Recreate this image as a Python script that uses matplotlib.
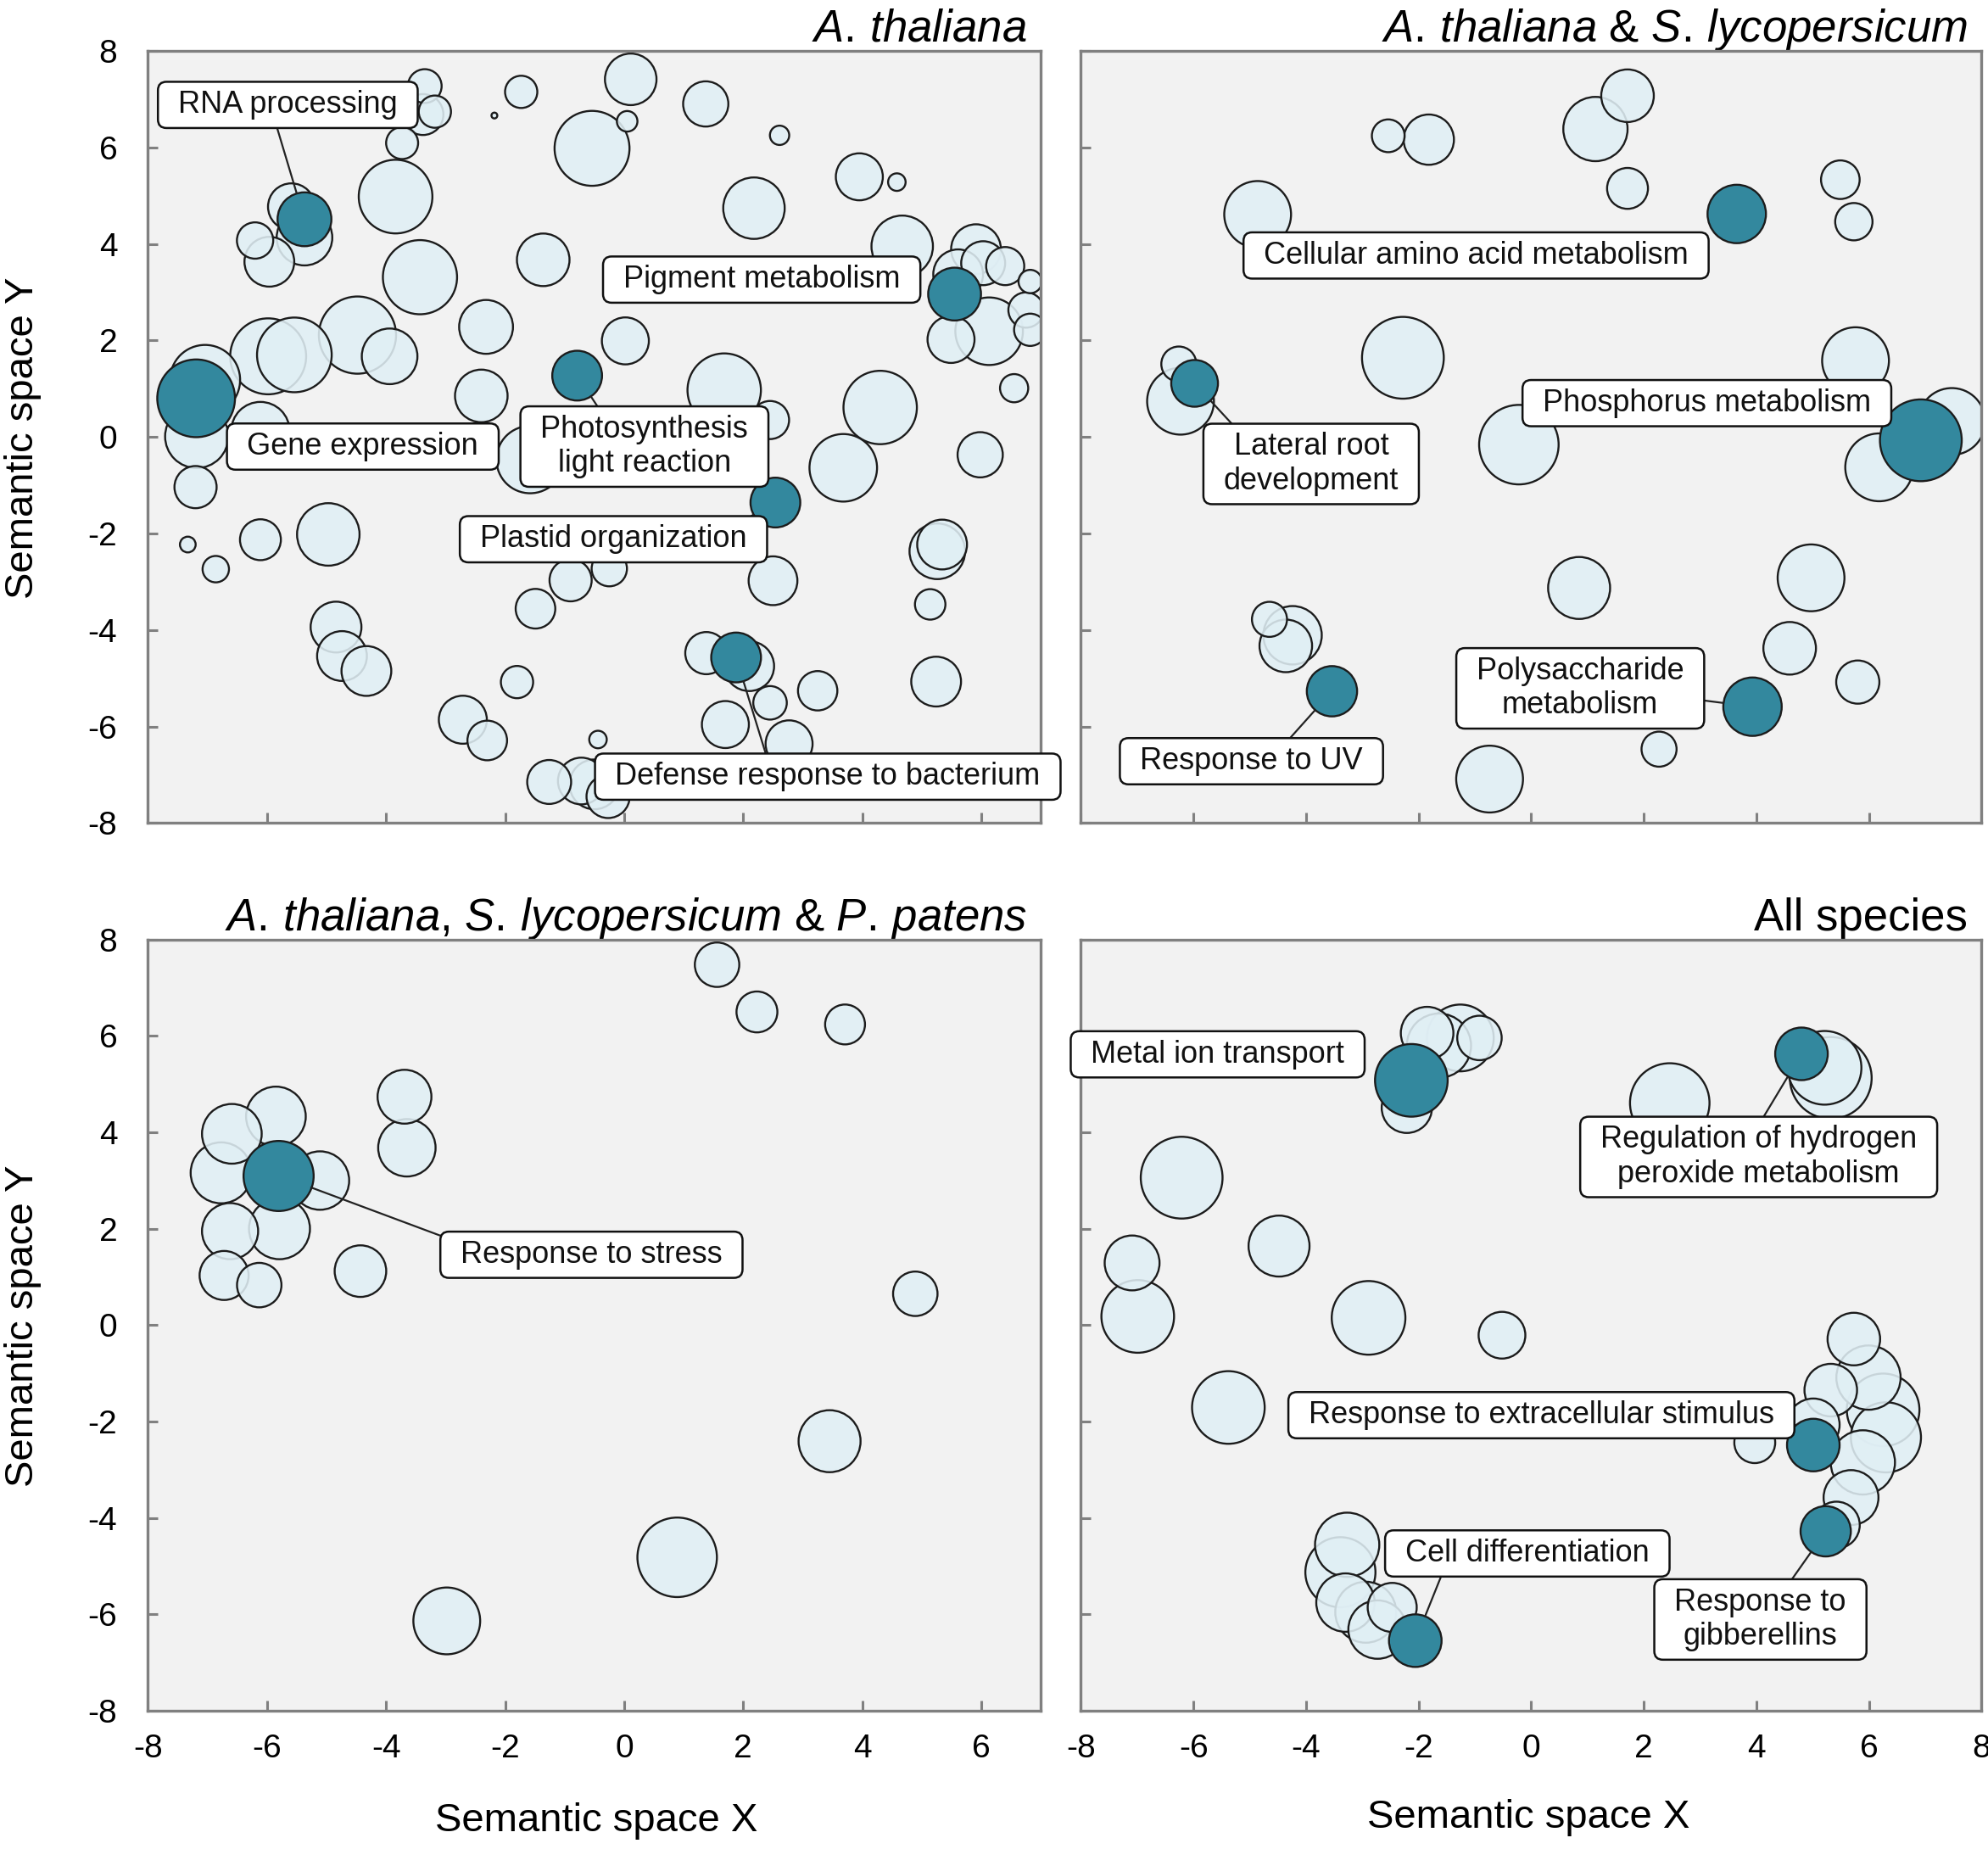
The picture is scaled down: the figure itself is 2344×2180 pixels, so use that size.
import matplotlib
matplotlib.use("Agg")
import matplotlib.pyplot as plt
from matplotlib.patches import BoxStyle
import numpy as np

plt.rcParams['font.family'] = ['Liberation Sans', 'DejaVu Sans']
plt.rcParams['mathtext.fontset'] = 'custom'
plt.rcParams['mathtext.rm'] = 'Liberation Sans'
plt.rcParams['mathtext.it'] = 'Liberation Sans:italic'
plt.rcParams['mathtext.bf'] = 'Liberation Sans:bold'
plt.rcParams['axes.unicode_minus'] = False

# ---------------- DATA ----------------
# Panel 1: A. thaliana  (background GO terms)
p1_x = [-7.04, -7.18, -6.11, -5.98, -5.54, -4.48, -3.94, -3.43, -3.84, -3.73, -3.35, -3.38, -3.18, -2.18,
        -1.73, -0.54, -1.36, -2.32, -2.40, -1.58, -5.59, -5.37, -6.20, -5.96, 0.11, 0.05, 1.37, 2.61,
        3.95, 4.58, 2.18, 4.67, 5.91, 6.03, 5.61, 6.40, 6.82, 6.75, 6.82, 5.49, 6.13, 6.55, 0.02, 1.68,
        2.45, 4.30, 3.68, 5.98, 5.26, 5.34, 5.14, 2.50, -0.25, 5.24, 1.38, 2.10, 2.45, 3.25, 1.70, 2.77,
        -0.44, -7.20, -7.33, -6.86, -6.11, -4.97, -4.84, -4.74, -4.33, -2.71, -2.30, -1.80, -1.49, -0.90,
        -1.26, -0.72, -0.50, -0.27]
p1_y = [1.18, 0.01, 0.12, 1.67, 1.70, 2.11, 1.67, 3.31, 4.98, 6.09, 7.27, 6.68, 6.74, 6.66,
        7.15, 5.98, 3.67, 2.28, 0.85, -0.47, 4.77, 4.13, 4.07, 3.63, 7.41, 6.54, 6.90, 6.25,
        5.39, 5.28, 4.74, 3.95, 3.89, 3.60, 3.37, 3.54, 3.22, 2.63, 2.22, 2.02, 2.19, 1.01, 1.99, 0.97,
        0.35, 0.61, -0.64, -0.37, -2.37, -2.23, -3.47, -2.98, -2.73, -5.07, -4.48, -4.75, -5.51, -5.26, -5.96, -6.36,
        -6.27, -1.04, -2.23, -2.74, -2.13, -2.02, -3.94, -4.54, -4.85, -5.86, -6.29, -5.08, -3.56, -2.97,
        -7.15, -7.13, -7.20, -7.45]
p1_size = [2.76, 2.49, 2.30, 2.99, 2.94, 3.04, 2.19, 2.92, 2.90, 1.26, 1.33, 1.61, 1.27, 0.23,
           1.27, 2.95, 2.07, 2.12, 2.07, 2.65, 1.84, 2.19, 1.43, 1.96, 2.03, 0.81, 1.78, 0.76,
           1.85, 0.69, 2.42, 2.42, 1.96, 1.73, 1.96, 1.50, 0.92, 1.39, 1.27, 1.85, 2.66, 1.11, 1.85, 2.89,
           1.50, 2.89, 2.66, 1.78, 2.19, 1.96, 1.20, 1.92, 1.39, 1.96, 1.66, 1.96, 1.32, 1.55, 1.85, 1.85,
           0.69, 1.66, 0.62, 1.04, 1.61, 2.46, 2.00, 1.96, 1.96, 1.89, 1.56, 1.27, 1.56, 1.66,
           1.73, 1.84, 1.96, 1.70]
# highlighted terms
p1_terms = ["RNA processing", "Pigment metabolism", "Gene expression",
            "Photosynthesis\nlight reaction", "Plastid organization", "Defense response to bacterium"]
p1_tx = [-5.37, 5.55, -7.19, -0.79, 2.54, 1.88]
p1_ty = [4.51, 2.96, 0.80, 1.27, -1.36, -4.57]
p1_tsize = [2.12, 2.08, 3.06, 1.96, 1.96, 1.96]

# Panel 2: A. thaliana & S. lycopersicum
p2_x = [-2.54, -1.82, 1.71, 1.14, 1.71, 5.49, 5.73, -4.86, -6.26, -6.23, -2.28, -0.22, 5.76, 7.47,
        6.18, 0.85, 4.97, 4.59, 5.80, 2.27, -0.74, -4.65, -4.24, -4.36]
p2_y = [6.24, 6.16, 7.07, 6.38, 5.15, 5.33, 4.46, 4.61, 1.51, 0.74, 1.64, -0.16, 1.58, 0.32,
        -0.63, -3.13, -2.92, -4.38, -5.08, -6.47, -7.09, -3.78, -4.11, -4.33]
p2_size = [1.29, 1.98, 2.07, 2.53, 1.61, 1.52, 1.47, 2.63, 1.38, 2.63, 3.22, 3.13, 2.63, 2.63,
           2.67, 2.44, 2.63, 2.07, 1.70, 1.38, 2.63, 1.38, 2.30, 2.07]
p2_terms = ["Cellular amino acid metabolism", "Lateral root\ndevelopment", "Phosphorus metabolism",
            "Polysaccharide\nmetabolism", "Response to UV"]
p2_tx = [3.65, -5.98, 6.92, 3.93, -3.54]
p2_ty = [4.62, 1.11, -0.07, -5.59, -5.27]
p2_tsize = [2.30, 1.84, 3.22, 2.30, 1.98]

# Panel 3: A. thaliana, S. lycopersicum & P. patens
p3_x = [1.56, 2.23, 3.71, -3.69, -3.65, -5.85, -6.59, -6.77, -5.11, -6.62, -5.79, -6.72, -6.13, -4.43,
        4.89, 3.45, 0.89, -2.98]
p3_y = [7.48, 6.50, 6.24, 4.74, 3.68, 4.33, 3.97, 3.16, 3.00, 1.95, 2.00, 1.03, 0.83, 1.12,
        0.65, -2.41, -4.82, -6.14]
p3_size = [1.75, 1.61, 1.57, 2.12, 2.26, 2.35, 2.35, 2.40, 2.30, 2.21, 2.40, 1.93, 1.75, 2.03,
           1.75, 2.44, 3.13, 2.63]
p3_terms = ["Response to stress"]
p3_tx = [-5.81]
p3_ty = [3.11]
p3_tsize = [2.76]

# Panel 4: All species
p4_x = [-2.21, -1.64, -1.26, -1.85, -0.92, 5.32, 5.21, 2.46, -6.21, -7.09, -6.99, -4.48, -2.89, -0.52,
        -5.38, 5.73, 5.99, 5.32, 6.25, 6.30, 5.89, 5.01, 3.97, 5.68, 5.42, -3.27, -3.39, -3.30,
        -2.94, -2.73, -2.47]
p4_y = [4.51, 5.80, 5.96, 6.06, 5.96, 5.13, 5.34, 4.61, 3.06, 1.29, 0.18, 1.64, 0.15, -0.21,
        -1.71, -0.29, -1.09, -1.35, -1.76, -2.33, -2.85, -2.07, -2.44, -3.58, -4.15, -4.56, -5.13, -5.76,
        -5.96, -6.32, -5.86]
p4_size = [1.98, 2.53, 2.63, 2.07, 1.75, 3.22, 2.90, 3.13, 3.22, 2.16, 2.86, 2.40, 2.90, 1.84,
           2.86, 2.07, 2.53, 2.07, 2.86, 2.76, 2.53, 2.07, 1.61, 2.16, 1.84, 2.53, 2.76, 2.30,
           2.40, 2.30, 1.93]
p4_terms = ["Metal ion transport", "Regulation of hydrogen\nperoxide metabolism",
            "Response to extracellular stimulus", "Cell differentiation", "Response to\ngibberellins"]
p4_tx = [-2.13, 4.80, 5.01, -2.06, 5.23]
p4_ty = [5.08, 5.63, -2.49, -6.55, -4.28]
p4_tsize = [2.86, 2.07, 2.07, 2.07, 1.98]

titles = [r"$\mathit{A.\,thaliana}$",
          r"$\mathit{A.\,thaliana}$ & $\mathit{S.\,lycopersicum}$",
          r"$\mathit{A.\,thaliana}$, $\mathit{S.\,lycopersicum}$ & $\mathit{P.\,patens}$",
          "All species"]
x_label = "Semantic space X"
y_label = "Semantic space Y"
y_ticks = [-8, -6, -4, -2, 0, 2, 4, 6, 8]

# ---------------- LAYOUT (label boxes: centre + connector anchor on box, None = no connector) ----------------
p1_lab = [(-5.65, 6.88), (2.31, 3.26), (-4.39, -0.20), (0.34, -0.20), (-0.18, -2.12), (3.42, -7.04)]
p1_rel = [(0.44, 0.0), None, None, (0.30, 1.0), (0.94, 0.9), (0.36, 1.0)]
p2_lab = [(-0.98, 3.76), (-3.91, -0.56), (3.12, 0.70), (0.87, -5.21), (-4.97, -6.72)]
p2_rel = [None, (0.09, 1.0), None, (1.0, 0.35), (0.64, 1.0)]
p3_lab = [(-0.55, 1.46)]
p3_rel = [(0.0, 0.89)]
p4_lab = [(-5.57, 5.62), (4.04, 3.49), (0.18, -1.87), (-0.07, -4.74), (4.07, -6.11)]
p4_rel = [None, (0.5, 1.0), None, (0.16, 0.0), (0.65, 1.0)]

BG = '#f2f2f2'
LIGHT = (224 / 255, 239 / 255, 245 / 255, 0.88)
DARK = '#33889e'
EDGE = '#1c1c1c'
SPINE = '#808080'
SIZE_PT = 5.39   # radius in points per size unit


def label_box(x0, y0, width, height, mutation_size):
    px = 0.66 * mutation_size
    py = 0.27 * mutation_size
    return BoxStyle.Round(pad=0, rounding_size=0.28)(
        x0 - px, y0 - py, width + 2 * px, height + 2 * py, mutation_size)


fig = plt.figure(figsize=(11.72, 10.9), dpi=200)
ax1 = fig.add_axes([0.0744, 0.5549, 0.4492, 0.4176])
ax2 = fig.add_axes([0.5437, 0.5549, 0.4531, 0.4176])
ax3 = fig.add_axes([0.0744, 0.0749, 0.4492, 0.4169])
ax4 = fig.add_axes([0.5437, 0.0749, 0.4531, 0.4169])


def panel(ax, xmax, bx, by, bs, tx, ty, ts, terms, labpos, rels, title, show_x, show_y):
    ax.set_facecolor(BG)
    ax.set_xlim(-8, xmax)
    ax.set_ylim(-8, 8)
    bx = np.asarray(bx); by = np.asarray(by); bs = np.asarray(bs)
    order = np.argsort(-bs, kind='stable')
    ax.scatter(bx[order], by[order], s=(2 * bs[order] * SIZE_PT) ** 2, facecolors=[LIGHT],
               edgecolors=EDGE, linewidths=0.85, zorder=2)
    ts = np.asarray(ts)
    ax.scatter(tx, ty, s=(2 * ts * SIZE_PT) ** 2, facecolors=DARK, edgecolors=EDGE,
               linewidths=0.85, zorder=3)
    for i, name in enumerate(terms):
        kw = dict(ha='center', va='center', fontsize=13, color='#111111',
                  bbox=dict(boxstyle=label_box, fc='white', ec='#111111', lw=0.9),
                  zorder=6, annotation_clip=False)
        if rels[i] is not None:
            kw['arrowprops'] = dict(arrowstyle='-', color='#222222', lw=0.8, relpos=rels[i],
                                    shrinkA=0, shrinkB=ts[i] * SIZE_PT)
        ax.annotate(name, xy=(tx[i], ty[i]), xytext=labpos[i], textcoords='data', **kw)
    xt = [v for v in range(-8, 9, 2) if v <= xmax]
    ax.set_xticks(xt)
    ax.set_yticks(y_ticks)
    ax.tick_params(axis='both', direction='in', length=4.3, width=1.1, color=SPINE,
                   labelsize=14, labelcolor='black')
    ax.tick_params(axis='x', pad=10, labelbottom=show_x)
    ax.tick_params(axis='y', pad=13, labelleft=show_y)
    for sp in ax.spines.values():
        sp.set_color(SPINE)
        sp.set_linewidth(1.2)
        sp.set_zorder(4)
    ax.annotate(title, xy=(1, 1), xycoords='axes fraction', xytext=(-6, 4),
                textcoords='offset points', ha='right', va='baseline', fontsize=19)


panel(ax1, 7.0, p1_x, p1_y, p1_size, p1_tx, p1_ty, p1_tsize, p1_terms, p1_lab, p1_rel, titles[0], False, True)
panel(ax2, 8.0, p2_x, p2_y, p2_size, p2_tx, p2_ty, p2_tsize, p2_terms, p2_lab, p2_rel, titles[1], False, False)
panel(ax3, 7.0, p3_x, p3_y, p3_size, p3_tx, p3_ty, p3_tsize, p3_terms, p3_lab, p3_rel, titles[2], True, True)
panel(ax4, 8.0, p4_x, p4_y, p4_size, p4_tx, p4_ty, p4_tsize, p4_terms, p4_lab, p4_rel, titles[3], True, False)

fig.text(0.0115, 0.763, y_label, rotation=90, ha='center', va='center', fontsize=17)
fig.text(0.0115, 0.283, y_label, rotation=90, ha='center', va='center', fontsize=17)
fig.text(0.300, 0.0150, x_label, ha='center', va='center', fontsize=17)
fig.text(0.769, 0.0168, x_label, ha='center', va='center', fontsize=17)

fig.savefig("out.png", dpi=200, facecolor='white')
